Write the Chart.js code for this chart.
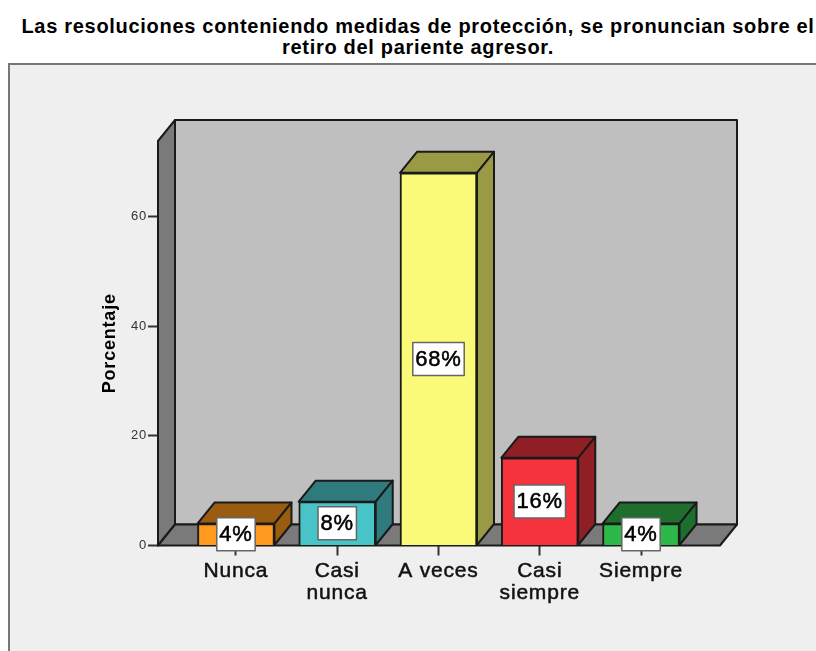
<!DOCTYPE html>
<html lang="es">

<head>
  <meta charset="UTF-8">
  <title>Retiro del pariente agresor</title>
  <script src="https://cdn.jsdelivr.net/npm/chart.js"></script>
  <style>
    html, body { margin: 0; width: 816px; height: 651px; overflow: hidden; background: #fff; }
    h2 {
      position: absolute; left: 0; top: 16px; width: 836px; margin: 0; text-align: center;
      font: bold 20px/21px "Liberation Sans", Arial, sans-serif; letter-spacing: 0.7px; color: #000;
    }
    .panel {
      position: absolute; left: 8px; top: 63px; width: 830px; height: 620px;
      background: #efefef; border: 2px solid #777;
    }
    canvas { position: absolute; left: 0; top: 0; }
  </style>
</head>

<body>
  <h2>Las resoluciones conteniendo medidas de protección, se pronuncian sobre el<br>retiro del pariente agresor.</h2>
  <div class="panel"></div>
  <canvas id="grafico" width="816" height="651"></canvas>

  <script>
    const categorias = ['Nunca', 'Casi nunca', 'A veces', 'Casi siempre', 'Siempre']
    const porcentajes = [4, 8, 68, 16, 4]
    const ticksY = [0, 20, 40, 60]
    const coloresFrente = ['#ff9a1e', '#48c4c8', '#fafa78', '#f5333c', '#2fb84a']
    const coloresFondo = ['#9a5c10', '#2e7a7c', '#9a9a45', '#8f1f24', '#1e6e2e']

    // profundidad del efecto 3D
    const dx = 17
    const dy = 21

    function poligono(ctx, puntos, relleno) {
      ctx.beginPath()
      ctx.moveTo(puntos[0][0], puntos[0][1])
      for (let i = 1; i < puntos.length; i++) {
        ctx.lineTo(puntos[i][0], puntos[i][1])
      }
      ctx.closePath()
      ctx.fillStyle = relleno
      ctx.fill()
      ctx.stroke()
    }

    const paredes = {
      id: 'paredes',
      beforeDraw(chart) {
        // el original tiene las letras mas separadas
        chart.ctx.letterSpacing = '0.8px'
      },
      beforeDatasetsDraw(chart) {
        const ctx = chart.ctx
        const a = chart.chartArea
        ctx.save()
        ctx.strokeStyle = '#1a1a1a'
        ctx.lineWidth = 2
        ctx.lineJoin = 'round'
        poligono(ctx, [[a.left + dx, a.top - dy], [a.right + dx, a.top - dy], [a.right + dx, a.bottom - dy], [a.left + dx, a.bottom - dy]], '#bfbfbf')
        poligono(ctx, [[a.left, a.top], [a.left + dx, a.top - dy], [a.left + dx, a.bottom - dy], [a.left, a.bottom]], '#7a7a7a')
        poligono(ctx, [[a.left, a.bottom], [a.left + dx, a.bottom - dy], [a.right + dx, a.bottom - dy], [a.right, a.bottom]], '#7a7a7a')
        ctx.restore()
      }
    }

    const barras3d = {
      id: 'barras3d',
      afterDatasetsDraw(chart) {
        const ctx = chart.ctx
        const barras = chart.getDatasetMeta(0).data
        ctx.save()
        ctx.strokeStyle = '#1a1a1a'
        ctx.lineWidth = 2
        ctx.lineJoin = 'round'
        for (let i = 0; i < barras.length; i++) {
          const b = barras[i]
          const izq = b.x - b.width / 2
          const der = b.x + b.width / 2
          poligono(ctx, [[izq, b.y], [izq + dx, b.y - dy], [der + dx, b.y - dy], [der, b.y]], coloresFondo[i])
          poligono(ctx, [[der, b.y], [der + dx, b.y - dy], [der + dx, b.base - dy], [der, b.base]], coloresFondo[i])
        }

        // etiquetas de valor en caja blanca
        ctx.font = '22px "Liberation Sans", Arial, sans-serif'
        ctx.textAlign = 'center'
        ctx.textBaseline = 'middle'
        for (let i = 0; i < barras.length; i++) {
          const b = barras[i]
          const texto = porcentajes[i] + '%'
          const ancho = ctx.measureText(texto).width + 5
          const cy = (b.y + b.base) / 2
          ctx.fillStyle = '#fff'
          ctx.strokeStyle = '#666'
          ctx.lineWidth = 1.5
          ctx.fillRect(b.x - ancho / 2, cy - 16.5, ancho, 33)
          ctx.strokeRect(b.x - ancho / 2, cy - 16.5, ancho, 33)
          ctx.fillStyle = '#000'
          ctx.strokeStyle = '#000'
          ctx.lineWidth = 0.5
          ctx.fillText(texto, b.x, cy + 1)
          ctx.strokeText(texto, b.x, cy + 1)
        }
        ctx.restore()
      }
    }

    new Chart(document.getElementById('grafico'), {
      type: 'bar',
      data: {
        datasets: [{
          data: porcentajes.map(function (v, i) { return { x: i, y: v } }),
          backgroundColor: coloresFrente,
          borderColor: '#1a1a1a',
          borderWidth: 2,
          barThickness: 77
        }]
      },
      plugins: [paredes, barras3d],
      options: {
        responsive: false,
        animation: false,
        layout: { padding: { left: 99, right: 96, top: 141, bottom: 0 } },
        plugins: { legend: { display: false }, tooltip: { enabled: false } },
        scales: {
          x: {
            type: 'linear',
            offset: false,
            min: -0.77,
            max: 4.78,
            afterBuildTicks(scale) {
              scale.ticks = categorias.map(function (c, i) { return { value: i } })
            },
            afterFit(scale) { scale.height = 105.5 },
            border: { display: false },
            grid: { offset: false, drawOnChartArea: false, tickLength: 10, tickColor: '#333', tickWidth: 2 },
            ticks: {
              maxRotation: 0,
              autoSkip: false,
              padding: 5,
              color: '#111',
              textStrokeColor: '#111',
              textStrokeWidth: 0.5,
              font: { family: '"Liberation Sans", Arial, sans-serif', size: 21, lineHeight: 1.05 },
              callback(v) {
                const c = categorias[v]
                return c.startsWith('Casi') ? c.split(' ') : c
              }
            }
          },
          y: {
            min: 0,
            max: 73.8,
            afterBuildTicks(scale) {
              scale.ticks = ticksY.map(function (v) { return { value: v } })
            },
            afterFit(scale) { scale.width = 59 },
            border: { display: false },
            grid: { drawOnChartArea: false, tickLength: 10, tickColor: '#333', tickWidth: 2 },
            ticks: {
              padding: 1,
              color: '#333',
              font: { family: '"Liberation Sans", Arial, sans-serif', size: 13 }
            },
            title: {
              display: true,
              text: 'Porcentaje',
              color: '#000',
              padding: 0,
              font: { family: '"Liberation Sans", Arial, sans-serif', size: 18, weight: 'bold' }
            }
          }
        }
      }
    })
  </script>
</body>

</html>
